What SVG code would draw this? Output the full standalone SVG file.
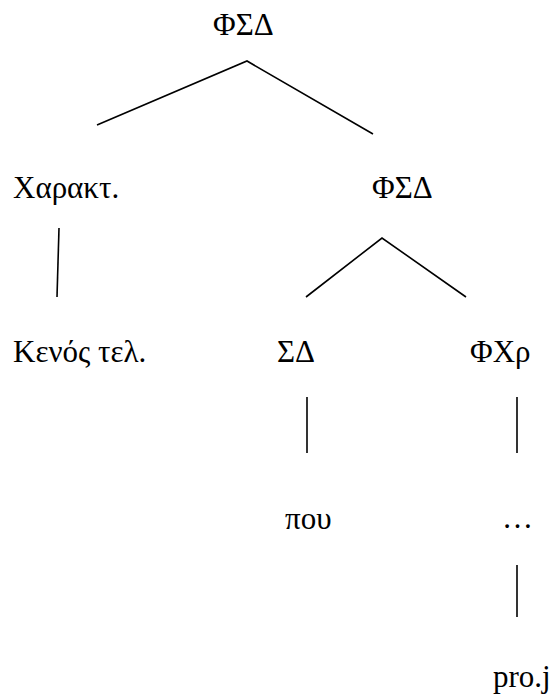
<svg xmlns="http://www.w3.org/2000/svg" width="554" height="697" viewBox="0 0 554 697">
  <style>
    .lbl { font-family: "Liberation Serif", "Times New Roman", serif; font-size: 31px; fill: #000; }
    .edge { stroke: #000; stroke-width: 1.6; fill: none; }
  </style>
  <rect width="554" height="697" fill="#fff"/>

  <!-- branches of the tree -->
  <g id="connectors">
    <polyline class="edge" points="97,125 247,61 373,134"/>
    <line class="edge" x1="59" y1="228" x2="57" y2="297"/>
    <polyline class="edge" points="306,297 382,238 466,297"/>
    <line class="edge" x1="307" y1="397" x2="307" y2="453"/>
    <line class="edge" x1="517" y1="397" x2="517" y2="453"/>
    <line class="edge" x1="517" y1="565" x2="517" y2="617"/>
  </g>

  <g id="root"><text class="lbl" x="213" y="35">ΦΣΔ</text></g>
  <g id="adj"><text class="lbl" x="13" y="198">Χαρακτ.</text></g>
  <g id="dp"><text class="lbl" x="372" y="198">ΦΣΔ</text></g>
  <g id="empty-op"><text class="lbl" x="13" y="362">Κενός τελ.</text></g>
  <g id="d"><text class="lbl" x="277" y="362">ΣΔ</text></g>
  <g id="tp"><text class="lbl" x="470" y="362">ΦΧρ</text></g>
  <g id="pou"><text class="lbl" x="285" y="529">που</text></g>
  <g id="dots"><text class="lbl" x="502" y="528">…</text></g>
  <g id="proj"><text class="lbl" x="493" y="687">pro.j</text></g>
</svg>
